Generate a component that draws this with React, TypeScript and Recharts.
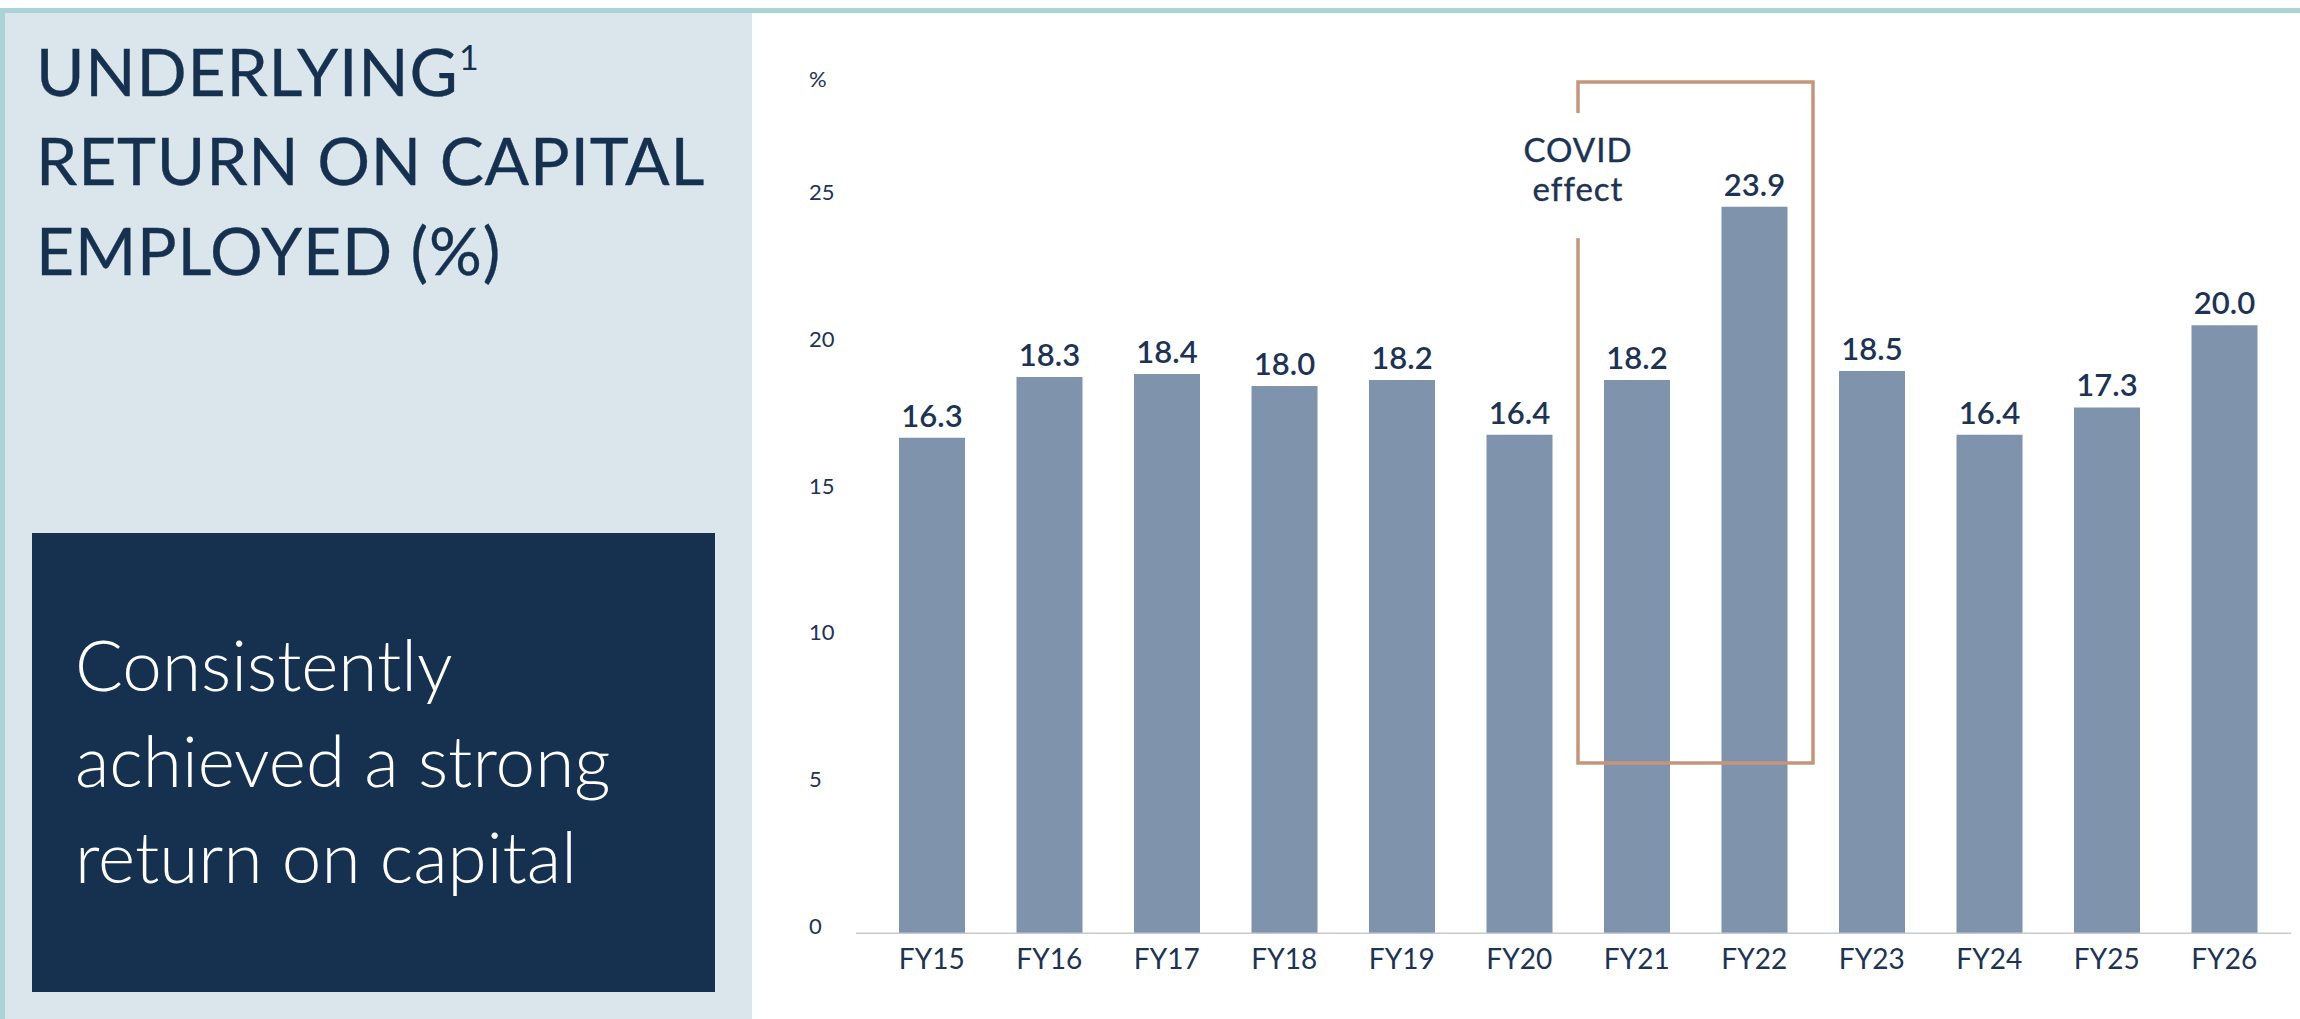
import { Bar, BarChart, LabelList, ReferenceArea, XAxis, YAxis } from "recharts";

// Underlying return on capital employed, by financial year (%)
const years = ["FY15", "FY16", "FY17", "FY18", "FY19", "FY20", "FY21", "FY22", "FY23", "FY24", "FY25", "FY26"];
const roce = [16.3, 18.3, 18.4, 18.0, 18.2, 16.4, 18.2, 23.9, 18.5, 16.4, 17.3, 20.0];
const percentTicks = [0, 5, 10, 15, 20, 25];

// COVID bracket: first/last year and its vertical extent in % units
const covidYears = ["FY21", "FY22"];
const covidRange = [5.6, 28];

const titleLines = ["UNDERLYING", "RETURN ON CAPITAL", "EMPLOYED (%)"];
const messageLines = ["Consistently", "achieved a strong", "return on capital"];

const data = years.map((year, i) => ({ year, roce: roce[i] }));

const NAVY = "#15314f";
const INK = "#1d3354";
const BAR = "#7f93ac";
const TEAL = "#a9d3d5";
const PANEL = "#dae6ec";
const BRACKET = "#c4977b";
const FONT = "Lato, 'Open Sans', sans-serif";

function PercentTick({ y, payload }: any) {
  return (
    <text x={49} y={y} dy="0.36em" fontSize={22} fill={INK} fontFamily={FONT}>
      {payload.value}
    </text>
  );
}

function YearTick({ x, y, payload }: any) {
  return (
    <text x={x} y={y} dy={36} textAnchor="middle" fontSize={28} fill={INK} fontFamily={FONT}>
      {payload.value}
    </text>
  );
}

function ValueLabel({ x, y, width, value }: any) {
  return (
    <text
      x={Number(x) + Number(width) / 2}
      y={Number(y) - 11}
      textAnchor="middle"
      fontSize={31}
      fontWeight={600}
      fill={INK}
      fontFamily={FONT}
    >
      {Number(value).toFixed(1)}
    </text>
  );
}

function CovidLabel({ viewBox }: any) {
  const { x, y } = viewBox;
  return (
    <g fontSize={33} fill={INK} fontFamily={FONT} textAnchor="middle" letterSpacing={1}>
      <rect x={x - 6} y={y + 31} width={12} height={125} fill="#ffffff" />
      <text x={x} y={y + 80} stroke={INK} strokeWidth={0.4}>
        COVID
      </text>
      <text x={x} y={y + 119} stroke={INK} strokeWidth={0.4}>
        effect
      </text>
    </g>
  );
}

export default function App() {
  return (
    <div style={{ position: "absolute", left: 0, top: 0, width: 2300, height: 1019, background: "#ffffff", overflow: "hidden" }}>
      <svg width={2300} height={1019} style={{ position: "absolute", left: 0, top: 0 }}>
        <rect x={0} y={8} width={2300} height={5} fill={TEAL} />
        <rect x={0} y={8} width={5} height={1011} fill={TEAL} />
        <rect x={5} y={13} width={747} height={1006} fill={PANEL} />
        {titleLines.map((line, i) => (
          <text
            key={line}
            x={36}
            y={96 + i * 89.3}
            fontSize={66}
            fill={NAVY}
            stroke={NAVY}
            strokeWidth={0.35}
            fontFamily={FONT}
            letterSpacing={0.8}
          >
            {line}
          </text>
        ))}
        <text x={459} y={70} fontSize={34} fill={NAVY} fontFamily={FONT}>
          1
        </text>
        <rect x={32} y={533} width={683} height={459} fill={NAVY} />
        {messageLines.map((line, i) => (
          <text key={line} x={75} y={691 + i * 96} fontSize={71} fontWeight={300} fill="#ffffff" fontFamily={FONT}>
            {line}
          </text>
        ))}
        <text x={809} y={87} fontSize={22} fill={INK} fontFamily={FONT}>
          %
        </text>
      </svg>
      <div style={{ position: "absolute", left: 760, top: 0 }}>
        <BarChart width={1540} height={1019} data={data} margin={{ top: 21.3, right: 9, bottom: 25.7, left: 49 }}>
          <XAxis
            dataKey="year"
            padding={{ left: 17, right: 8 }}
            height={60}
            tickSize={0}
            tickMargin={0}
            tickLine={false}
            axisLine={{ stroke: "#c5cad0", strokeWidth: 1.5 }}
            tick={<YearTick />}
            interval={0}
          />
          <YAxis yAxisId="bars" domain={[0, 30]} hide allowDataOverflow />
          <YAxis
            yAxisId="labels"
            type="number"
            domain={[-0.249, 30.82]}
            ticks={percentTicks}
            allowDataOverflow
            width={47}
            axisLine={false}
            tickLine={false}
            tick={<PercentTick />}
          />
          <Bar yAxisId="bars" dataKey="roce" fill={BAR} barSize={66} isAnimationActive={false}>
            <LabelList dataKey="roce" content={<ValueLabel />} />
          </Bar>
          <ReferenceArea
            yAxisId="bars"
            x1={covidYears[0]}
            x2={covidYears[1]}
            y1={covidRange[0]}
            y2={covidRange[1]}
            fill="none"
            fillOpacity={0}
            stroke={BRACKET}
            strokeWidth={3.5}
            zIndex={600}
            label={<CovidLabel />}
          />
        </BarChart>
      </div>
    </div>
  );
}
